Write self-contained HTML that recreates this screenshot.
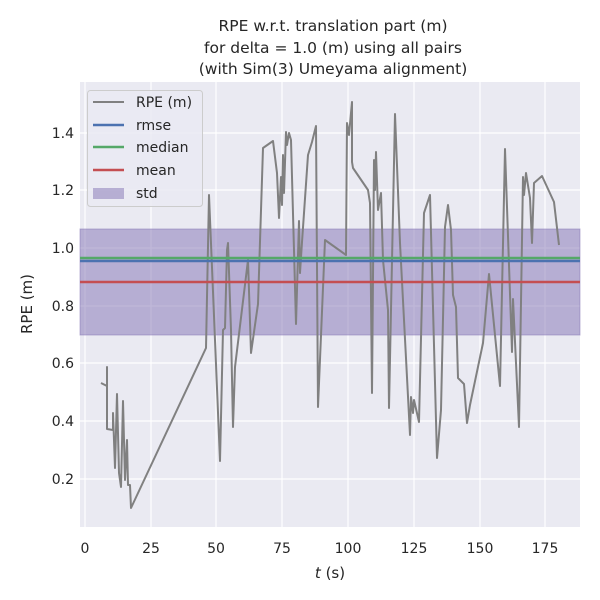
<!DOCTYPE html>
<html><head><meta charset="utf-8"><style>body{margin:0;background:#fff}svg{display:block}text{font-family:"DejaVu Sans","Liberation Sans",sans-serif;fill:#262626}</style></head><body>
<svg width="600" height="600" viewBox="0 0 600 600">
<rect x="80" y="82" width="500" height="445" fill="#eaeaf2"/>
<g stroke="#fff" stroke-width="1.2">
<line x1="85" y1="82" x2="85" y2="527"/><line x1="151" y1="82" x2="151" y2="527"/><line x1="216" y1="82" x2="216" y2="527"/><line x1="282" y1="82" x2="282" y2="527"/><line x1="348" y1="82" x2="348" y2="527"/><line x1="414" y1="82" x2="414" y2="527"/><line x1="480" y1="82" x2="480" y2="527"/><line x1="545" y1="82" x2="545" y2="527"/>
<line x1="80" y1="479" x2="580" y2="479"/><line x1="80" y1="421" x2="580" y2="421"/><line x1="80" y1="363" x2="580" y2="363"/><line x1="80" y1="306" x2="580" y2="306"/><line x1="80" y1="248" x2="580" y2="248"/><line x1="80" y1="190" x2="580" y2="190"/><line x1="80" y1="133" x2="580" y2="133"/>
</g>
<rect x="80" y="229" width="500" height="106" fill="#8172b3" fill-opacity="0.5" stroke="#8172b3" stroke-opacity="0.5"/>
<polyline fill="none" stroke="#808080" stroke-width="2" stroke-linejoin="round" points="101,383 107,386 107,367 107,429 113,430 113,413 115,468 117,394 119,473 121,487 123,401 125,480 127,440 128,485 130,485 131,508 206,348 209,195 220,461 223,330 225,328 227,250 228,243 231,330 233,427 235,367 248,260 251,353 258,304 263,148 273,141 277,173 279,218 281,177 282,205 283,155 284,193 286,132 287,145 289,133 291,140 296,324 299,221 300,273 302,242 308,155 312,142 316,126 318,407 325,240 346,255 347,123 349,135 352,102 352,162 353,168 368,190 370,203 372,393 374,160 375,190 376,152 378,210 381,193 383,260 388,310 389,408 395,114 400,243 410,435 411,397 413,413 414,400 419,422 424,213 430,195 437,458 441,410 445,227 448,205 451,230 453,295 456,307 458,378 464,384 467,423 470,405 483,343 489,274 500,386 505,149 512,352 513,299 519,427 523,177 524,195 526,173 530,198 532,243 534,183 542,176 554,202 559,245"/>
<line x1="80" y1="258" x2="580" y2="258" stroke="#55a868" stroke-width="2.5"/>
<line x1="80" y1="261" x2="580" y2="261" stroke="#4c72b0" stroke-width="2.5"/>
<line x1="80" y1="282" x2="580" y2="282" stroke="#c44e52" stroke-width="2.5"/>
<rect x="87.5" y="90.5" width="115" height="116" rx="3" fill="#eaeaf2" fill-opacity="0.8" stroke="#ccc"/>
<line x1="93" y1="102" x2="124" y2="102" stroke="#808080" stroke-width="2"/>
<line x1="93" y1="125" x2="124" y2="125" stroke="#4c72b0" stroke-width="2.5"/>
<line x1="93" y1="147" x2="124" y2="147" stroke="#55a868" stroke-width="2.5"/>
<line x1="93" y1="170" x2="124" y2="170" stroke="#c44e52" stroke-width="2.5"/>
<rect x="93" y="188" width="31" height="11" fill="#8172b3" fill-opacity="0.5"/>
<g font-size="14"><text x="136" y="107">RPE (m)</text><text x="136" y="130">rmse</text><text x="136" y="152">median</text><text x="136" y="175">mean</text><text x="136" y="198">std</text></g>
<g font-size="14" text-anchor="middle"><text x="85" y="553">0</text><text x="151" y="553">25</text><text x="216" y="553">50</text><text x="282" y="553">75</text><text x="348" y="553">100</text><text x="414" y="553">125</text><text x="480" y="553">150</text><text x="545" y="553">175</text></g>
<g font-size="14" text-anchor="end"><text x="74" y="484">0.2</text><text x="74" y="426">0.4</text><text x="74" y="368">0.6</text><text x="74" y="311">0.8</text><text x="74" y="253">1.0</text><text x="74" y="195">1.2</text><text x="74" y="138">1.4</text></g>
<text x="330" y="578" font-size="15" text-anchor="middle"><tspan font-style="italic">t</tspan> (s)</text>
<text transform="translate(32,304) rotate(-90)" font-size="15" text-anchor="middle">RPE (m)</text>
<g font-size="15.5" text-anchor="middle"><text x="333" y="31">RPE w.r.t. translation part (m)</text><text x="333" y="53">for delta = 1.0 (m) using all pairs</text><text x="333" y="74">(with Sim(3) Umeyama alignment)</text></g>
</svg></body></html>
